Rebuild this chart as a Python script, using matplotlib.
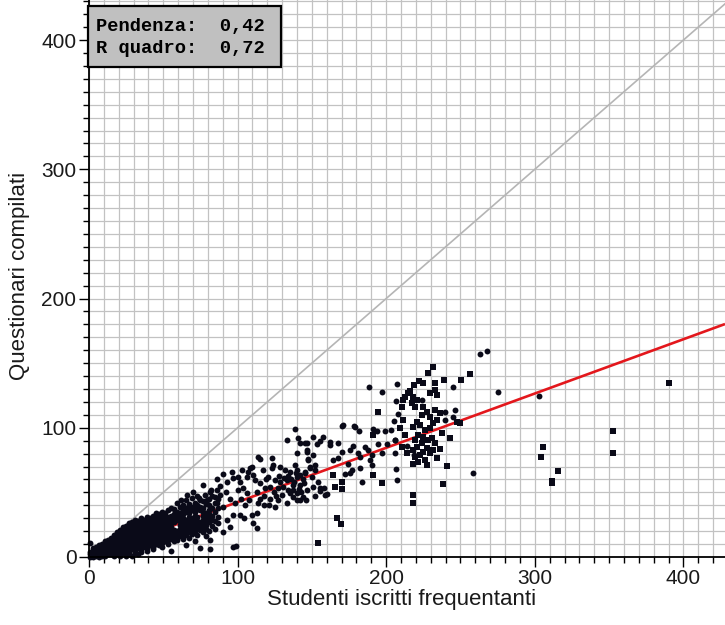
import matplotlib
matplotlib.use('Agg')
import matplotlib.pyplot as plt
from matplotlib.patches import Rectangle
from matplotlib.ticker import MultipleLocator

# ---------------- data ----------------
x_ticks = [0, 100, 200, 300, 400]
y_ticks = [0, 100, 200, 300, 400]
x_label = 'Studenti iscritti frequentanti'
y_label = 'Questionari compilati'
stat_lines = ['Pendenza:  0,42', 'R quadro:  0,72']
fit_slope = 0.42
fit_intercept = 0.5

# dense band near the origin: column x positions and the y values in each column
dense_col_x = [1, 3, 5, 7, 9, 11, 13, 15, 17, 19, 21, 23, 25, 27, 29, 31, 33, 35,
               37, 39, 41, 43, 45, 47, 49, 51, 53, 55, 57, 59, 61, 63, 65, 67, 69,
               71, 73, 75, 77, 79, 81, 83, 85, 87]
dense_col_y = [
    [0, 2, 4, 11], [0, 2, 5, 7], [1, 3, 6, 8], [0, 2, 4, 7, 9], [1, 3, 5, 8, 10],
    [1, 4, 6, 9, 12], [2, 5, 8, 10, 13], [2, 4, 7, 10, 12, 15],
    [1, 3, 6, 9, 12, 15, 17], [2, 5, 8, 11, 14, 17, 19],
    [1, 4, 7, 10, 13, 16, 19, 21], [3, 6, 9, 12, 15, 18, 21, 23],
    [1, 5, 8, 11, 14, 17, 20, 24], [2, 4, 7, 10, 13, 16, 19, 23, 26],
    [1, 6, 9, 12, 15, 18, 21, 24, 27], [3, 5, 8, 11, 14, 17, 20, 23, 26, 29],
    [2, 7, 10, 13, 16, 19, 22, 25, 28], [4, 6, 9, 12, 15, 18, 21, 24, 27, 30],
    [8, 11, 14, 17, 20, 23, 26, 29], [5, 7, 10, 13, 16, 19, 22, 25, 28, 31],
    [9, 12, 15, 18, 21, 24, 27, 30], [6, 8, 11, 14, 17, 20, 23, 26, 29, 32],
    [10, 13, 16, 19, 22, 25, 28, 31, 34], [9, 12, 15, 18, 21, 24, 27, 30, 33],
    [8, 11, 14, 17, 20, 23, 26, 29, 32, 35], [12, 15, 18, 21, 24, 27, 30, 34],
    [10, 13, 16, 19, 22, 25, 28, 31, 36], [5, 14, 17, 20, 23, 26, 29, 32, 38],
    [12, 15, 18, 21, 27, 30, 33, 37], [13, 17, 20, 29, 32, 35, 42],
    [16, 19, 22, 25, 28, 31, 34, 39], [14, 18, 21, 24, 27, 30, 33, 36, 40],
    [9, 17, 20, 23, 26, 29, 35, 38, 44], [15, 19, 22, 25, 28, 31, 34, 37, 41],
    [18, 21, 24, 27, 30, 36, 39, 46], [12, 20, 23, 26, 29, 32, 35, 38, 42],
    [17, 22, 25, 28, 31, 37, 40, 47], [21, 24, 27, 36, 39, 44],
    [19, 23, 26, 29, 32, 35, 38, 43], [16, 22, 25, 28, 31, 34, 41],
    [20, 27, 30, 33, 36, 40, 45], [24, 29, 32, 38, 47], [22, 28, 35, 42],
    [26, 31, 38, 45],
]

# scattered round points (x = enrolled students, y = questionnaires)
dot_x = [138.6, 133.4, 140.8, 142, 145.4, 113.9, 115, 139.8, 146.5, 147.6, 122.9, 124,
         122.9, 128.5, 131.9, 135.3, 138.6, 139.8, 142, 145.4, 148.7, 152, 108.3, 107.2,
         96, 90.4, 97.1, 92.7, 101.6, 106.1, 110.6, 111.7, 115, 103.8, 100.5, 106.1, 112.9,
         118.4, 121.8, 120.7, 125.2, 128.5, 130.8, 134.1, 135.3, 139.8, 142, 137.5, 133,
         137.5, 76.9, 81.4, 84.8, 79.2, 85.9, 90.4, 97.1, 101.6, 92.7, 95, 90.4, 81.4, 97.1,
         109.5, 112.9, 110.6, 112.9, 125.2, 133, 139.8,
         188.6, 207, 197, 170, 179, 181.9, 190.9, 193.6, 199.2, 203, 151, 157.7, 155.4,
         153.2, 146.5, 162.2, 167.8, 177.9, 185.7, 188, 194.7, 200.3, 206, 170, 175.6,
         181.2, 182.4, 190.2, 196.9, 164.4, 167.8, 189, 190.2, 182.4, 175.6, 183.5, 206.6,
         207, 146.5, 151, 147.6, 148.7, 152.1, 145.4, 149.9, 154.3, 151, 146.5, 155.4,
         158.8, 144.2,
         160, 158.4, 172.4, 177, 174, 162, 170.8, 178, 146, 152, 155.3, 121, 113.4, 118,
         124.2, 104, 127.3, 81.4, 74.5, 99,
         239.6, 246.3, 239.6, 245.1, 258.6, 275.4, 245.1, 263, 267.6, 223.8, 303,
         205.9, 205.9, 206.5, 208, 205, 214, 219,
         136, 138, 140, 142, 144, 141, 143, 137, 145, 139, 134, 131,
         95, 98, 102, 105, 108, 115, 118, 122, 126, 92, 88, 86, 100, 103, 110, 117, 119,
         128, 130, 127,
         62, 66, 70, 74, 78, 82, 88, 86]
dot_y = [99, 90.5, 91.8, 88.4, 87.9, 77.6, 75.6, 80.2, 81.4, 75.6, 76.3, 71.2,
         68.6, 69.8, 67.3, 66, 71.2, 67.3, 63.4, 66, 68.6, 71.2, 68.6, 66,
         66, 64.2, 60.9, 58.2, 58.2, 62.1, 63.4, 59.6, 57, 53.1, 51.8, 49.3, 50.5,
         53.1, 54.4, 62.1, 59.6, 58.2, 54.4, 51.8, 49.3, 49.3, 44.1, 46.6, 59.6,
         55.7, 55.7, 50.5, 46.6, 44.1, 41.5, 38.9, 32.5, 32.5, 28.6, 23.4, 19.6, 13.1, 8,
         32.5, 33.8, 26.1, 22.2, 38.9, 41.5, 44.1,
         131.7, 133.6, 127.4, 101.3, 100.3, 97.7, 98.8, 97.7, 97.7, 98.2, 93, 92.6, 90,
         87.4, 88, 86.6, 87.9, 85.8, 85.3, 82.8, 87.4, 87.4, 90.5, 81.4, 82.8,
         80.7, 77.1, 78.9, 80.2, 75, 76.3, 75, 71.2, 68.6, 65.2, 58.2, 67.8,
         59.6, 82.8, 78.9, 75, 69.8, 67.3, 64.7, 62.1, 58.2, 54.4, 51.8, 53.1,
         48, 46.6,
         49, 53.6, 64.5, 67.6, 72.3, 88.8, 102.5, 101.2, 44.2, 47.4, 51.4, 40, 42, 47.4,
         50.5, 30, 53.6, 6.5, 6.9, 8.7,
         112.4, 113.7, 105.9, 108, 65.2, 128, 131.7, 157.4, 159.5, 121.4, 124.5,
         80.2, 90.5, 120.6, 111, 105, 86, 79,
         60, 58, 62, 56, 60, 53, 50, 52, 57, 65, 63, 61,
         45, 42, 45, 40, 44, 45, 40, 45, 47, 50, 55, 60, 62, 67, 70, 67, 60,
         63, 48, 44,
         44, 48, 50, 46, 48, 52, 48, 52]

# square points
sq_x = [390.5, 352.4, 352.4, 305.5, 304.4, 315.4, 311.8, 311.8,
        256.4, 250.3, 239.1, 231.7, 228.3, 249.7, 247.5, 242.7, 240.7, 238, 218.2, 218.3,
        197, 191.3, 194.7, 191.3, 164.4, 170, 165.5, 170, 166.8, 169.9, 154.3,
        225, 232.8, 229.5, 234, 218.2, 220.5, 217.2, 219.4, 225, 227.2, 223.8, 229.5,
        232.8, 234, 231.7, 220.5, 222.7, 218.2, 226.1, 229.5, 221.6, 225, 219.4, 228.3,
        230.6, 232.8, 223.8, 220.5, 227.2, 218.2, 225, 229.5, 222.7, 219.4, 226.1, 221.6,
        231.7, 234, 210.4, 211.5, 209.3, 212.6, 210.4, 213.8, 211.5, 214.9,
        215.8, 219, 222, 212.7, 236, 236, 237.6, 233, 218, 227.6]
sq_y = [134.3, 97.7, 80.7, 84.8, 77.6, 66.3, 59, 57,
        141.5, 136.9, 136.9, 147.2, 142.5, 103.4, 104.6, 91.8, 70.4, 56.5, 48, 41.5,
        57, 63.4, 111.9, 94.4, 63.4, 58.2, 54.4, 52.4, 30.2, 25.5, 11.2,
        134.3, 129.2, 126.6, 125.3, 124, 121.4, 118.9, 116.2, 116.2, 112.4, 109.8, 108.5,
        113.7, 105.9, 103.4, 104.6, 102.1, 100.8, 98.2, 99.5, 94.4, 93, 90.5, 90.5,
        91.8, 87.9, 87.9, 85.3, 84.1, 82.8, 81.4, 80.2, 78.9, 77.6, 75, 73.7,
        82.8, 76.3, 116.2, 106, 99.5, 94.4, 85.3, 80.2, 121.4, 126.6,
        128.3, 133, 136, 123.7, 111.2, 83.2, 95.6, 134.6, 72, 71]

# ---------------- figure ----------------
W, H = 725, 625
fig = plt.figure(figsize=(W / 100, H / 100), dpi=100)
ax_left, ax_bottom = 89, 68
ax = fig.add_axes([ax_left / W, ax_bottom / H, (W - ax_left) / W, (H - ax_bottom) / H])

x_max, y_max = 428, 431
ax.set_xlim(0, x_max)
ax.set_ylim(0, y_max)
ax.set_xticks(x_ticks)
ax.set_yticks(y_ticks)
ax.xaxis.set_minor_locator(MultipleLocator(10))
ax.yaxis.set_minor_locator(MultipleLocator(10))
ax.grid(which='both', color='#c2c2c2', lw=0.9)
ax.set_axisbelow(True)

for s in ('top', 'right'):
    ax.spines[s].set_visible(False)
for s in ('left', 'bottom'):
    ax.spines[s].set_linewidth(1.3)
    ax.spines[s].set_color('black')
    ax.spines[s].set_zorder(4)

ax.tick_params(which='major', direction='out', length=7, width=1.0, color='black',
               labelsize=15, labelcolor='#1a1a1a', pad=2)
ax.tick_params(which='minor', direction='out', length=4, width=1.0, color='black')
for lab in ax.get_xticklabels() + ax.get_yticklabels():
    lab.set_family('Liberation Sans')

# identity line and regression line
ax.plot([0, y_max], [0, y_max], color='#b5b5b5', lw=1.2, zorder=1)
fit_x = [0, x_max]
fit_y = [fit_slope * v + fit_intercept for v in fit_x]
ax.plot(fit_x, fit_y, color='#e3171c', lw=1.9, zorder=2, solid_capstyle='butt')

# points
dense_x = [cx for cx, col in zip(dense_col_x, dense_col_y) for _ in col]
dense_y = [v for col in dense_col_y for v in col]
pt_color = '#0a0a18'
ax.scatter(dense_x, dense_y, marker='o', s=18, c=pt_color, linewidths=0, zorder=3, clip_on=False)
ax.scatter(dot_x, dot_y, marker='o', s=18, c=pt_color, linewidths=0, zorder=3, clip_on=False)
ax.scatter(sq_x, sq_y, marker='s', s=15, c=pt_color, linewidths=0, zorder=3, clip_on=False)

# stats box
ax.add_patch(Rectangle((-0.0015, 1 - 67 / 557), (282 - 89) / 636, 61 / 557,
                       transform=ax.transAxes, facecolor='#c0c0c0', edgecolor='black',
                       lw=1.6, zorder=6, clip_on=False))
fig.text(96 / W, 1 - 31 / H, stat_lines[0], family='Liberation Mono', weight='bold',
         fontsize=13.5, va='baseline', ha='left', color='black', zorder=7)
fig.text(96 / W, 1 - 53 / H, stat_lines[1], family='Liberation Mono', weight='bold',
         fontsize=13.5, va='baseline', ha='left', color='black', zorder=7)

# axis titles
fig.text(401.5 / W, 1 - 600 / H, x_label, family='Liberation Sans', fontsize=16,
         ha='center', va='center', color='#1a1a1a')
fig.text(20 / W, 1 - 276 / H, y_label, family='Liberation Sans', fontsize=16,
         ha='center', va='center', rotation=90, color='#1a1a1a')

fig.savefig('out.png', dpi=100)
